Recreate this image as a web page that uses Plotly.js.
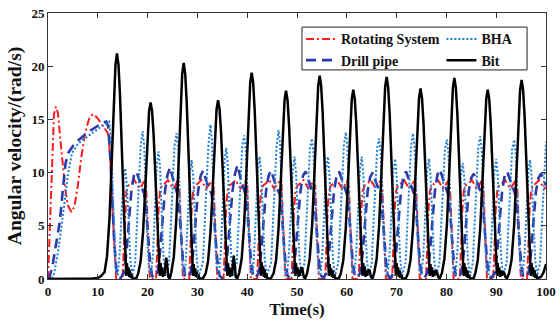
<!DOCTYPE html>
<html>
<head>
<meta charset="utf-8">
<script src="https://cdn.plot.ly/plotly-3.0.1.min.js"></script>
<style>html,body{margin:0;padding:0;background:#fff;}#chart{width:559px;height:329px;}</style>
</head>
<body>
<div id="chart"></div>
<script>
// ---- Data ----
const seriesNames = ["Rotating System", "Drill pipe", "BHA", "Bit"];
const xTicks = [0, 10, 20, 30, 40, 50, 60, 70, 80, 90, 100];
const yTicks = [0, 5, 10, 15, 20, 25];

const rotTime = [0,0.3,0.6,0.9,1.2,1.6,2.0,2.5,3.0,3.5,4.0,4.7,5.3,6.0,6.7,7.4,8.2,9.0,9.8,10.6,11.4,11.9,12.2,12.6,13.0,13.4,13.7,
14.95,15.2,15.45,15.75,16.15,16.75,17.35,17.85,18.35,18.85,19.3,19.7,20.0,20.25,20.45,
21.7,21.95,22.2,22.5,22.9,23.5,24.1,24.6,25.1,25.6,25.95,26.35,26.65,26.9,27.1,
28.35,28.6,28.85,29.15,29.55,30.15,30.75,31.25,31.75,32.25,32.85,33.25,33.55,33.8,34.0,
35.25,35.5,35.75,36.05,36.45,37.05,37.65,38.15,38.65,39.15,39.6,40.0,40.3,40.55,40.75,
42.0,42.25,42.5,42.8,43.2,43.8,44.4,44.9,45.4,45.9,46.5,46.9,47.2,47.45,47.65,
48.9,49.15,49.4,49.7,50.1,50.7,51.3,51.8,52.3,52.8,53.25,53.65,53.95,54.2,54.4,
55.65,55.9,56.15,56.45,56.85,57.45,58.05,58.55,59.05,59.55,60.0,60.4,60.7,60.95,61.15,
62.4,62.65,62.9,63.2,63.6,64.2,64.8,65.3,65.8,66.3,66.7,67.1,67.4,67.65,67.85,
69.1,69.35,69.6,69.9,70.3,70.9,71.5,72.0,72.5,73.0,73.5,73.9,74.2,74.45,74.65,
75.9,76.15,76.4,76.7,77.1,77.7,78.3,78.8,79.3,79.8,80.3,80.7,81.0,81.25,81.45,
82.7,82.95,83.2,83.5,83.9,84.5,85.1,85.6,86.1,86.6,87.0,87.4,87.7,87.95,88.15,
89.4,89.65,89.9,90.2,90.6,91.2,91.8,92.3,92.8,93.3,93.8,94.2,94.5,94.75,94.95,
96.2,96.45,96.7,97.0,97.4,98.0,98.6,99.1,99.6,100];
const rotSpeed = [0,4,9,13,15.5,16.2,15.6,13,10.5,8.3,6.9,6.3,6.8,8.8,11.5,13.6,15.0,15.5,15.2,14.7,14.2,13.8,13.4,10.5,6,2,0,
0,3,6.5,8.3,8.8,9.0,9.3,8.9,8.5,8.8,9.2,8.8,6,2.5,0,
0,3,6.5,8.3,8.8,9.0,9.3,8.9,8.5,8.8,9.2,8.8,6,2.5,0,
0,3,6.5,8.3,8.8,9.0,9.3,8.9,8.5,8.8,9.2,8.8,6,2.5,0,
0,3,6.5,8.3,8.8,9.0,9.3,8.9,8.5,8.8,9.2,8.8,6,2.5,0,
0,3,6.5,8.3,8.8,9.0,9.3,8.9,8.5,8.8,9.2,8.8,6,2.5,0,
0,3,6.5,8.3,8.8,9.0,9.3,8.9,8.5,8.8,9.2,8.8,6,2.5,0,
0,3,6.5,8.3,8.8,9.0,9.3,8.9,8.5,8.8,9.2,8.8,6,2.5,0,
0,3,6.5,8.3,8.8,9.0,9.3,8.9,8.5,8.8,9.2,8.8,6,2.5,0,
0,3,6.5,8.3,8.8,9.0,9.3,8.9,8.5,8.8,9.2,8.8,6,2.5,0,
0,3,6.5,8.3,8.8,9.0,9.3,8.9,8.5,8.8,9.2,8.8,6,2.5,0,
0,3,6.5,8.3,8.8,9.0,9.3,8.9,8.5,8.8,9.2,8.8,6,2.5,0,
0,3,6.5,8.3,8.8,9.0,9.3,8.9,8.5,8.8,9.2,8.8,6,2.5,0,
0,3,6.5,8.3,8.8,9.0,9.3,8.9,8.5,8.6];

const pipeTime = [0,0.3,1.0,1.7,2.4,3.0,3.5,4.0,5.0,6.0,7.0,8.0,9.0,10.0,11.0,11.7,12.1,12.5,12.9,13.3,13.7,14.1,14.6,
15.25,15.75,16.25,16.75,17.25,17.75,18.35,18.85,19.3,19.7,20.1,20.5,20.9,21.4,
22.0,22.5,23.0,23.5,24.0,24.5,25.1,25.6,25.95,26.35,26.75,27.15,27.55,28.05,
28.65,29.15,29.65,30.15,30.65,31.15,31.75,32.25,32.85,33.25,33.65,34.05,34.45,34.95,
35.55,36.05,36.55,37.05,37.55,38.05,38.65,39.15,39.6,40.0,40.4,40.8,41.2,41.7,
42.3,42.8,43.3,43.8,44.3,44.8,45.4,45.9,46.5,46.9,47.3,47.7,48.1,48.6,
49.2,49.7,50.2,50.7,51.2,51.7,52.3,52.8,53.25,53.65,54.05,54.45,54.85,55.35,
55.95,56.45,56.95,57.45,57.95,58.45,59.05,59.55,60.0,60.4,60.8,61.2,61.6,62.1,
62.7,63.2,63.7,64.2,64.7,65.2,65.8,66.3,66.7,67.1,67.5,67.9,68.3,68.8,
69.4,69.9,70.4,70.9,71.4,71.9,72.5,73.0,73.5,73.9,74.3,74.7,75.1,75.6,
76.2,76.7,77.2,77.7,78.2,78.7,79.3,79.8,80.3,80.7,81.1,81.5,81.9,82.4,
83.0,83.5,84.0,84.5,85.0,85.5,86.1,86.6,87.0,87.4,87.8,88.2,88.6,89.1,
89.7,90.2,90.7,91.2,91.7,92.2,92.8,93.3,93.8,94.2,94.6,95.0,95.4,95.9,
96.5,97.0,97.5,98.0,98.5,99.0,99.5,100];
const pipeSpeed = [0,0.1,1.5,3.5,5.5,8.5,10.8,11.8,12.5,13.0,13.4,13.8,14.1,14.4,14.7,14.8,14.3,11.5,7.5,3.5,1.0,0.2,0.1,
0.6,2.5,5.5,8.3,9.7,10.1,9.3,8.6,8.0,6.5,3.8,1.5,0.3,0.1,
0.6,2.5,5.5,8.3,9.8,10.5,9.4,8.6,8.0,6.5,3.8,1.5,0.3,0.1,
0.6,2.5,5.5,8.3,9.7,10.2,9.3,8.6,8.0,6.5,3.8,1.5,0.3,0.1,
0.6,2.5,5.5,8.3,9.9,10.7,9.5,8.7,8.0,6.5,3.8,1.5,0.3,0.1,
0.6,2.5,5.5,8.3,9.7,10.2,9.3,8.6,8.0,6.5,3.8,1.5,0.3,0.1,
0.6,2.5,5.5,8.3,9.7,10.1,9.3,8.6,8.0,6.5,3.8,1.5,0.3,0.1,
0.6,2.5,5.5,8.3,9.7,10.1,9.3,8.6,8.0,6.5,3.8,1.5,0.3,0.1,
0.6,2.5,5.5,8.3,9.6,10.0,9.2,8.6,8.0,6.5,3.8,1.5,0.3,0.1,
0.6,2.5,5.5,8.3,9.7,10.1,9.3,8.6,8.0,6.5,3.8,1.5,0.3,0.1,
0.6,2.5,5.5,8.3,9.8,10.3,9.4,8.6,8.0,6.5,3.8,1.5,0.3,0.1,
0.6,2.5,5.5,8.3,9.5,9.9,9.2,8.5,8.0,6.5,3.8,1.5,0.3,0.1,
0.6,2.5,5.5,8.3,9.7,10.1,9.3,8.6,8.0,6.5,3.8,1.5,0.3,0.1,
0.6,2.5,5.5,8.3,9.5,9.9,9.4,8.8];

const bhaTime = [0,0.5,1.1,2.0,3.0,3.4,4.0,4.8,6.0,7.1,8.5,10.0,11.0,12.0,12.3,12.7,13.0,13.3,13.6,14.0,
14.4,14.8,15.15,15.5,15.8,16.15,16.5,16.9,17.5,17.8,18.2,18.6,19.0,
19.3,19.65,20.0,20.35,20.7,21.1,21.5,21.85,22.2,
22.5,22.85,23.2,23.6,24.3,24.6,25.0,25.4,25.8,
26.1,26.45,26.8,27.15,27.5,27.75,28.15,28.5,28.85,
29.15,29.5,29.85,30.25,31.1,31.4,31.8,32.2,32.6,
32.9,33.25,33.6,33.95,34.3,34.7,35.1,35.45,35.8,
36.1,36.45,36.8,37.2,37.9,38.2,38.6,39.0,39.4,
39.7,40.05,40.4,40.75,41.1,41.4,41.8,42.15,42.5,
42.8,43.15,43.5,43.9,44.8,45.1,45.5,45.9,46.3,
46.6,46.95,47.3,47.65,48.0,48.4,48.8,49.15,49.5,
49.8,50.15,50.5,50.9,51.5,51.8,52.2,52.6,53.0,
53.3,53.65,54.0,54.35,54.7,55.1,55.5,55.85,56.2,
56.5,56.85,57.2,57.6,58.3,58.6,59.0,59.4,59.8,
60.1,60.45,60.8,61.15,61.5,61.9,62.3,62.65,63.0,
63.3,63.65,64.0,64.4,65.0,65.3,65.7,66.1,66.5,
66.8,67.15,67.5,67.85,68.2,68.6,69.0,69.35,69.7,
70.0,70.35,70.7,71.1,71.8,72.1,72.5,72.9,73.3,
73.6,73.95,74.3,74.65,75.0,75.4,75.8,76.15,76.5,
76.8,77.15,77.5,77.9,78.6,78.9,79.3,79.7,80.1,
80.4,80.75,81.1,81.45,81.8,82.2,82.6,82.95,83.3,
83.6,83.95,84.3,84.7,85.3,85.6,86.0,86.4,86.8,
87.1,87.45,87.8,88.15,88.5,88.9,89.3,89.65,90.0,
90.3,90.65,91.0,91.4,92.1,92.4,92.8,93.2,93.6,
93.9,94.25,94.6,94.95,95.3,95.7,96.1,96.45,96.8,
97.1,97.45,97.8,98.2,98.8,99.1,99.5,99.9,100];
const bhaSpeed = [0,0,0.2,2.5,6,7.4,9.8,11.8,12.7,13.1,13.6,14.1,14.4,14.7,14.8,12.5,8,3.5,1.0,0.3,
2.5,6.5,9.2,10.4,8.9,6,2,0.3,1.5,4.5,8.8,12.5,13.9,
12.6,8,3.2,0.6,0.4,2.5,6.8,10.8,12.0,
10.5,6,2,0.3,1.5,4.5,8.8,12.5,13.7,
12.4,8,3.2,0.6,0.4,2.5,6.8,10,11.2,
9.7,6,2,0.3,1.5,4.5,8.8,12.5,14.5,
13.2,8,3.2,0.6,0.4,2.5,6.8,11.1,12.3,
10.8,6,2,0.3,1.5,4.5,8.8,12.5,13.5,
12.2,8,3.2,0.6,0.4,2.5,6.8,10.3,11.5,
10,6,2,0.3,1.5,4.5,8.8,12.5,14.0,
12.7,8,3.2,0.6,0.4,2.5,6.8,10.3,11.5,
10,6,2,0.3,1.5,4.5,8.8,12.3,13.2,
11.9,8,3.2,0.6,0.4,2.5,6.8,10.3,11.5,
10,6,2,0.3,1.5,4.5,8.8,12.5,13.8,
12.5,8,3.2,0.6,0.4,2.5,6.8,10.3,11.5,
10,6,2,0.3,1.5,4.5,8.8,12.3,13.2,
11.9,8,3.2,0.6,0.4,2.5,6.8,10.1,11.3,
9.8,6,2,0.3,1.5,4.5,8.8,12.5,13.7,
12.4,8,3.2,0.6,0.4,2.5,6.8,10.1,11.3,
9.8,6,2,0.3,1.5,4.5,8.8,12.2,13.1,
11.8,8,3.2,0.6,0.4,2.5,6.8,9.8,10.9,
9.4,6,2,0.3,1.5,4.5,8.8,12.4,13.4,
12.1,8,3.2,0.6,0.4,2.5,6.8,10.1,11.3,
9.8,6,2,0.3,1.5,4.5,8.8,12.2,13.1,
11.8,8,3.2,0.6,0.4,2.5,6.8,10,11.2,
9.7,6,2,0.3,1.5,4.5,8.8,12.5,12.9];

const bitTime = [0,5,9,10,10.6,
11.35,11.85,12.35,12.85,13.25,13.55,13.85,14.15,14.45,14.85,15.25,15.55,
15.7,15.85,16.0,16.15,16.3,16.45,16.6,16.8,17.0,17.7,
18.1,18.6,19.1,19.6,20.0,20.3,20.6,20.9,21.2,21.6,22.0,22.3,
22.45,22.6,22.75,22.9,23.05,23.2,23.35,23.55,23.75,23.95,24.15,24.45,
24.75,25.25,25.75,26.25,26.65,26.95,27.25,27.55,27.85,28.25,28.65,28.95,
29.1,29.25,29.4,29.55,29.7,29.85,30.0,30.2,30.4,31.1,
31.65,32.15,32.65,33.15,33.55,33.85,34.15,34.45,34.75,35.15,35.55,35.85,
36.0,36.15,36.3,36.45,36.6,36.75,36.9,37.1,37.3,37.5,37.7,38.0,
38.4,38.9,39.4,39.9,40.3,40.6,40.9,41.2,41.5,41.9,42.3,42.6,
42.75,42.9,43.05,43.2,43.35,43.5,43.65,43.85,44.05,44.75,
45.3,45.8,46.3,46.8,47.2,47.5,47.8,48.1,48.4,48.8,49.2,49.5,
49.65,49.8,49.95,50.1,50.25,50.4,50.55,50.75,50.95,51.15,51.35,51.65,
52.05,52.55,53.05,53.55,53.95,54.25,54.55,54.85,55.15,55.55,55.95,56.25,
56.4,56.55,56.7,56.85,57.0,57.15,57.3,57.5,57.7,58.4,
58.8,59.3,59.8,60.3,60.7,61.0,61.3,61.6,61.9,62.3,62.7,63.0,
63.15,63.3,63.45,63.6,63.75,63.9,64.05,64.25,64.45,64.65,64.85,65.15,
65.5,66.0,66.5,67.0,67.4,67.7,68.0,68.3,68.6,69.0,69.4,69.7,
69.85,70.0,70.15,70.3,70.45,70.6,70.75,70.95,71.15,71.85,
72.3,72.8,73.3,73.8,74.2,74.5,74.8,75.1,75.4,75.8,76.2,76.5,
76.65,76.8,76.95,77.1,77.25,77.4,77.55,77.75,77.95,78.15,78.35,78.65,
79.1,79.6,80.1,80.6,81.0,81.3,81.6,81.9,82.2,82.6,83.0,83.3,
83.45,83.6,83.75,83.9,84.05,84.2,84.35,84.55,84.75,85.45,
85.8,86.3,86.8,87.3,87.7,88.0,88.3,88.6,88.9,89.3,89.7,90.0,
90.15,90.3,90.45,90.6,90.75,90.9,91.05,91.25,91.45,91.65,91.85,92.15,
92.6,93.1,93.6,94.1,94.5,94.8,95.1,95.4,95.7,96.1,96.5,96.8,
96.95,97.1,97.25,97.4,97.55,97.7,97.85,98.05,98.25,99.0,99.5,100];
const bitSpeed = [0,0,0.05,0.1,0.25,
0.64,2.12,5.72,11.66,17.38,20.14,21.2,20.14,17.38,11.24,5.09,2.12,
0.3,1.5,0.4,1.1,0.2,0.8,0.1,0.4,0.05,0.05,
0.5,1.66,4.48,9.13,13.61,15.77,16.6,15.77,13.61,8.8,3.98,1.66,
0.3,1.5,0.4,1.1,0.2,0.8,0.3,1.2,2.0,1.2,0.2,0.05,
0.61,2.03,5.48,11.17,16.65,19.29,20.3,19.29,16.65,10.76,4.87,2.03,
0.3,1.4,0.3,1.0,0.2,0.7,0.1,0.4,0.05,0.05,
0.5,1.68,4.54,9.24,13.78,15.96,16.8,15.96,13.78,8.9,4.03,1.68,
0.3,1.5,0.4,1.1,0.2,0.8,0.3,1.3,2.2,1.3,0.2,0.05,
0.58,1.94,5.24,10.67,15.91,18.43,19.4,18.43,15.91,10.28,4.66,1.94,
0.3,1.6,0.4,1.2,0.2,0.9,0.1,0.5,0.05,0.05,
0.53,1.77,4.78,9.74,14.51,16.82,17.7,16.82,14.51,9.38,4.25,1.77,
0.3,1.5,0.4,1.1,0.2,0.8,0.3,0.9,1.1,0.8,0.2,0.05,
0.57,1.91,5.16,10.5,15.66,18.15,19.1,18.15,15.66,10.12,4.58,1.91,
0.3,1.4,0.4,1.0,0.2,0.8,0.1,0.4,0.05,0.05,
0.53,1.78,4.81,9.79,14.6,16.91,17.8,16.91,14.6,9.43,4.27,1.78,
0.3,1.5,0.4,1.2,0.2,0.8,0.3,0.7,0.9,0.7,0.2,0.05,
0.57,1.9,5.13,10.45,15.58,18.05,19.0,18.05,15.58,10.07,4.56,1.9,
0.3,1.5,0.4,1.1,0.2,0.8,0.1,0.4,0.05,0.05,
0.54,1.79,4.83,9.85,14.68,17.0,17.9,17.0,14.68,9.49,4.3,1.79,
0.3,1.4,0.4,1.1,0.2,0.8,0.3,0.6,0.8,0.6,0.2,0.05,
0.57,1.89,5.1,10.4,15.5,17.96,18.9,17.96,15.5,10.02,4.54,1.89,
0.3,1.5,0.4,1.1,0.2,0.8,0.1,0.4,0.05,0.05,
0.53,1.78,4.81,9.79,14.6,16.91,17.8,16.91,14.6,9.43,4.27,1.78,
0.3,1.5,0.4,1.1,0.2,0.8,0.3,0.5,0.7,0.5,0.2,0.05,
0.56,1.87,5.05,10.29,15.33,17.77,18.7,17.77,15.33,9.91,4.49,1.87,
0.3,1.5,0.4,1.1,0.2,0.8,0.1,0.4,0.05,0.2,0.6,1.4];

// ---- Chart ----
const serif = "'Liberation Serif', 'Times New Roman', serif";
const traces = [
  {x: rotTime, y: rotSpeed, name: seriesNames[0], type: 'scatter', mode: 'lines', legend: 'legend',
   line: {color: '#ff1a1a', width: 2, dash: '8px,3px,2px,3px'}},
  {x: pipeTime, y: pipeSpeed, name: seriesNames[1], type: 'scatter', mode: 'lines', legend: 'legend',
   line: {color: '#2b3aa8', width: 2.6, dash: '10px,6px'}},
  {x: bhaTime, y: bhaSpeed, name: seriesNames[2], type: 'scatter', mode: 'lines', legend: 'legend2',
   line: {color: '#1f7fd8', width: 2, dash: '2px,2px'}},
  {x: bitTime, y: bitSpeed, name: seriesNames[3], type: 'scatter', mode: 'lines', legend: 'legend2',
   line: {color: '#000000', width: 2.5}}
];

const axisCommon = {
  showline: true, linecolor: '#333', linewidth: 1, mirror: 'ticks',
  ticks: 'inside', ticklen: 5, tickcolor: '#333', tickwidth: 1,
  showgrid: false, zeroline: false,
  tickfont: {family: serif, size: 13, color: '#111', weight: 'bold'}
};

const legendCommon = {
  orientation: 'v', bgcolor: 'rgba(0,0,0,0)', borderwidth: 0,
  font: {family: serif, size: 14, color: '#111', weight: 'bold'},
  yanchor: 'top', xanchor: 'left', tracegroupgap: 0, itemwidth: 30
};

const layout = {
  width: 559, height: 329,
  margin: {l: 48, r: 13, t: 13, b: 50},
  paper_bgcolor: '#fff', plot_bgcolor: '#fff',
  showlegend: true,
  xaxis: Object.assign({}, axisCommon, {
    range: [0, 100], tickvals: xTicks, ticktext: xTicks.map(String),
    title: {text: 'Time(s)', font: {family: serif, size: 17, color: '#111', weight: 'bold'}, standoff: 5}
  }),
  yaxis: Object.assign({}, axisCommon, {
    range: [0, 25], tickvals: yTicks, ticktext: yTicks.map(String),
    title: {text: 'Angular velocity/(rad/s)', font: {family: serif, size: 19.5, color: '#111', weight: 'bold'}, standoff: 4}
  }),
  legend: Object.assign({}, legendCommon, {x: 0.508, y: 0.961}),
  legend2: Object.assign({}, legendCommon, {x: 0.79, y: 0.961}),
  shapes: [{type: 'rect', xref: 'paper', yref: 'paper', x0: 0.51, x1: 0.962, y0: 0.786, y1: 0.947,
            line: {color: '#222', width: 1}, fillcolor: 'rgba(0,0,0,0)', layer: 'above'}]
};

Plotly.newPlot('chart', traces, layout, {displayModeBar: false, staticPlot: true});
</script>
</body>
</html>
